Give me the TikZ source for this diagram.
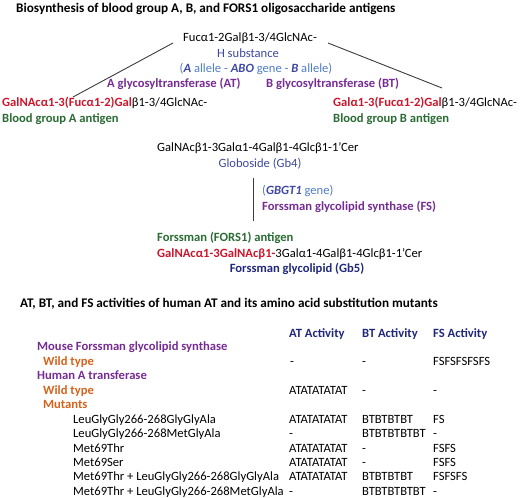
\documentclass[tikz,border=0pt]{standalone}
\usepackage{fontspec}
\setmainfont{Carlito}
\usetikzlibrary{positioning}

\definecolor{hblue}{RGB}{62,72,160}
\definecolor{lblue}{RGB}{80,125,200}
\definecolor{enzpurple}{RGB}{118,44,148}
\definecolor{agreen}{RGB}{42,108,52}
\definecolor{sugred}{RGB}{204,22,44}
\definecolor{wtorange}{RGB}{214,98,28}
\definecolor{hdnavy}{RGB}{32,40,122}
\definecolor{linegray}{RGB}{60,60,60}

\newcommand{\red}[1]{\textcolor{sugred}{\bfseries #1}}
\newcommand{\bi}[1]{\textcolor{hblue}{\bfseries\itshape #1}}
\newcommand{\fsz}{\fontsize{12.6}{14}\selectfont}

\tikzset{
  txt/.style={inner sep=0pt, font=\fsz},
  lt/.style={txt, anchor=base west},
  ct/.style={txt, anchor=base},
  hd/.style={lt, font=\fontsize{13.2}{15}\selectfont\bfseries},
  enz/.style={lt, text=enzpurple, font=\fsz\bfseries},
  ant/.style={lt, text=agreen, font=\fsz\bfseries},
  wt/.style={lt, text=wtorange, font=\fsz\bfseries},
  col/.style={lt, text=hdnavy, font=\fsz\bfseries},
  arm/.style={linegray, line width=0.9pt}
}

\begin{document}
\begin{tikzpicture}[x=1pt,y=-1pt]
  \useasboundingbox (0,0) rectangle (520,498);

  % upper part: blood group A and B
  \node[hd] (title1) at (16,12) {Biosynthesis of blood group A, B, and FORS1 oligosaccharide antigens};
  \node[ct] (hsub)  at (250,41) {Fucα1-2Galβ1-3/4GlcNAc-};
  \node[ct, text=hblue]  (hname)  at (248,57) {H substance};
  \node[ct, text=lblue]  (allele) at (256,72) {(\bi{A} allele - \bi{ABO} gene - \bi{B} allele)};
  \node[enz] (at) at (107,87) {A glycosyltransferase (AT)};
  \node[enz] (bt) at (266,87) {B glycosyltransferase (BT)};

  \coordinate (la1) at (173,43);
  \coordinate (la2) at (73,97);
  \coordinate (lb1) at (328,43);
  \coordinate (lb2) at (442,88);
  \draw[arm] (la1) -- (la2);
  \draw[arm] (lb1) -- (lb2);

  \node[lt] (agA) at (2,106) {\red{GalNAcα1-3(Fucα1-2)Gal}β1-3/4GlcNAc-};
  \node[ant] (nameA) at (2,122) {Blood group A antigen};
  \node[lt] (agB) at (333,106) {\red{Galα1-3(Fucα1-2)Gal}β1-3/4GlcNAc-};
  \node[ant] (nameB) at (333,122) {Blood group B antigen};

  % middle part: Forssman
  \node[lt] (gb4) at (157,151) {GalNAcβ1-3Galα1-4Galβ1-4Glcβ1-1’Cer};
  \node[ct, text=hblue] (gb4name) at (260,167) {Globoside (Gb4)};
  \coordinate (fs1) at (253,178);
  \coordinate (fs2) at (253,221);
  \draw[arm] (fs1) -- (fs2);
  \node[lt, text=lblue] (gene) at (262,194) {(\bi{GBGT1} gene)};
  \node[enz] (fs) at (262,210) {Forssman glycolipid synthase (FS)};
  \node[ant] (fors) at (157,241) {Forssman (FORS1) antigen};
  \node[lt] (gb5) at (157,257) {\red{GalNAcα1-3GalNAcβ1-}3Galα1-4Galβ1-4Glcβ1-1’Cer};
  \node[ct, text=hdnavy, font=\fsz\bfseries] (gb5name) at (297,272) {Forssman glycolipid (Gb5)};

  % lower part: table of activities
  \node[hd] (title2) at (20,307) {AT, BT, and FS activities of human AT and its amino acid substitution mutants};
  \node[col] (colAT) at (289,337) {AT Activity};
  \node[col] (colBT) at (362,337) {BT Activity};
  \node[col] (colFS) at (433,337) {FS Activity};

  \node[enz] (mouse) at (37,350) {Mouse Forssman glycolipid synthase};
  \node[wt]  (mwt)   at (43,365) {Wild type};
  \node[enz] (human) at (37,379) {Human A transferase};
  \node[wt]  (hwt)   at (43,394) {Wild type};
  \node[wt]  (mut)   at (43,408) {Mutants};

  \node[lt] at (290,365) {-};
  \node[lt] at (362,365) {-};
  \node[lt] at (433,365) {FSFSFSFSFS};
  \node[lt] at (289,394) {ATATATATAT};
  \node[lt] at (362,394) {-};
  \node[lt] at (433,394) {-};

  \foreach \y/\nm/\va/\vb/\vf in {
      423/LeuGlyGly266-268GlyGlyAla/ATATATATAT/BTBTBTBT/FS,
      437/LeuGlyGly266-268MetGlyAla/-/BTBTBTBTBT/-,
      452/Met69Thr/ATATATATAT/-/FSFS,
      466/Met69Ser/ATATATATAT/-/FSFS,
      480/Met69Thr + LeuGlyGly266-268GlyGlyAla/ATATATATAT/BTBTBTBT/FSFSFS,
      495/Met69Thr + LeuGlyGly266-268MetGlyAla/-/BTBTBTBTBT/-}{
    \node[lt] at (73,\y) {\nm};
    \node[lt] at (289,\y) {\va};
    \node[lt] at (362,\y) {\vb};
    \node[lt] at (433,\y) {\vf};
  }
\end{tikzpicture}
\end{document}
